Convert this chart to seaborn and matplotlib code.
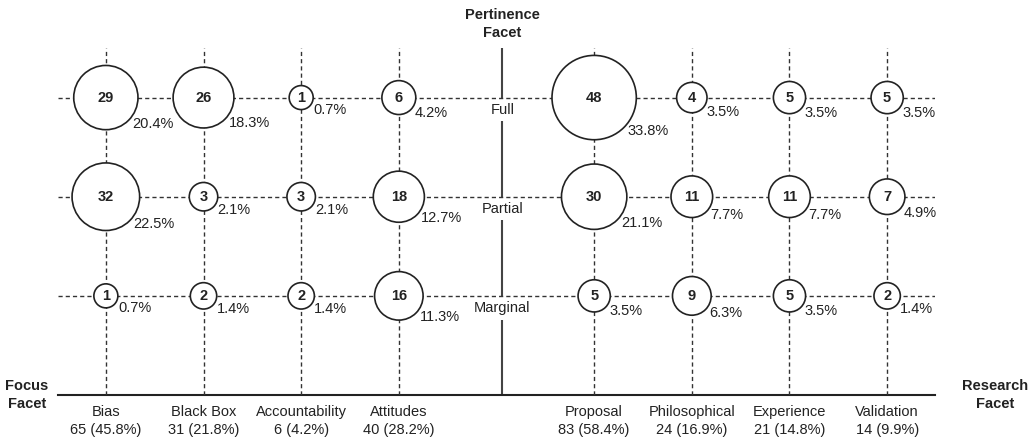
import numpy as np
import pandas as pd
import matplotlib
matplotlib.use("Agg")
import matplotlib.pyplot as plt
import seaborn as sns

# ---------------- data ----------------
focus_categories = ["Bias", "Black Box", "Accountability", "Attitudes"]
focus_totals = ["65 (45.8%)", "31 (21.8%)", "6 (4.2%)", "40 (28.2%)"]
research_categories = ["Proposal", "Philosophical", "Experience", "Validation"]
research_totals = ["83 (58.4%)", "24 (16.9%)", "21 (14.8%)", "14 (9.9%)"]
pertinence_levels = ["Full", "Partial", "Marginal"]

# rows follow pertinence_levels order
focus_counts = [
    [29, 26, 1, 6],
    [32, 3, 3, 18],
    [1, 2, 2, 16],
]
focus_pcts = [
    ["20.4%", "18.3%", "0.7%", "4.2%"],
    ["22.5%", "2.1%", "2.1%", "12.7%"],
    ["0.7%", "1.4%", "1.4%", "11.3%"],
]
research_counts = [
    [48, 4, 5, 5],
    [30, 11, 11, 7],
    [5, 9, 5, 2],
]
research_pcts = [
    ["33.8%", "3.5%", "3.5%", "3.5%"],
    ["21.1%", "7.7%", "7.7%", "4.9%"],
    ["3.5%", "6.3%", "3.5%", "1.4%"],
]

# ---------------- build table ----------------
rows = []
ncat = len(focus_categories)
for r, level in enumerate(pertinence_levels):
    yv = len(pertinence_levels) - r
    for c, cat in enumerate(focus_categories):
        rows.append(dict(facet="Focus", category=cat, x=c, y=yv,
                         count=focus_counts[r][c], pct=focus_pcts[r][c]))
    for c, cat in enumerate(research_categories):
        rows.append(dict(facet="Research", category=cat, x=ncat + 1 + c, y=yv,
                         count=research_counts[r][c], pct=research_pcts[r][c]))
df = pd.DataFrame(rows)
separator_x = ncat + 0.06

DPI = 100
def marker_diameter_px(n):
    return 20.5 + 3.5 * n ** 0.75

size_map = {n: (marker_diameter_px(n) * 72 / DPI) ** 2 for n in sorted(df["count"].unique())}

# ---------------- style ----------------
sns.set_style("white")
plt.rcParams["font.family"] = ["Liberation Sans", "DejaVu Sans"]

fig = plt.figure(figsize=(10.35, 4.4), dpi=DPI)
ax = fig.add_axes([58 / 1035, 45 / 440, 877 / 1035, 347 / 440])

ymax = 3.5
xmin, xmax = -0.49, 2 * ncat + 0.49
ax.set_xlim(xmin, xmax)
ax.set_ylim(0, ymax)

dash = (0, (3, 2.2))
line_col = "#333333"
xpos = [c for c in range(ncat)] + [ncat + 1 + c for c in range(ncat)]
ax.vlines(xpos, 0, ymax, colors=line_col, linestyles=dash, linewidth=1.0, zorder=3)
ax.hlines([1, 2, 3], xmin, xmax, colors=line_col, linestyles=dash,
          linewidth=1.0, zorder=3)
ax.vlines(separator_x, 0, ymax, colors="#444444", linewidth=1.5, zorder=1)

sns.scatterplot(data=df, x="x", y="y", size="count", sizes=size_map,
                color="white", edgecolor="#222222", linewidth=1.2,
                legend=False, zorder=5, ax=ax)

for _, row in df.iterrows():
    ax.text(row["x"], row["y"], str(row["count"]), ha="center", va="center",
            fontsize=10.5, fontweight="bold", color="#222222", zorder=6)
    r_pt = marker_diameter_px(row["count"]) / 2 * 72 / DPI
    off = r_pt * 0.707
    ax.annotate(row["pct"], xy=(row["x"], row["y"]), xycoords="data",
                xytext=(off + 2.6, -off - 2.6), textcoords="offset points",
                ha="left", va="center", fontsize=10.5, color="#222222", zorder=6)

for r, level in enumerate(pertinence_levels):
    yv = len(pertinence_levels) - r
    ax.text(separator_x, yv - 0.125, level, ha="center", va="center", fontsize=10.5,
            color="#222222", zorder=2,
            bbox=dict(boxstyle="square,pad=0.3", facecolor="white", edgecolor="none"))

tick_labels = [f"{c}\n{t}" for c, t in zip(focus_categories, focus_totals)] + \
              [f"{c}\n{t}" for c, t in zip(research_categories, research_totals)]
ax.set_xticks(xpos)
ax.set_xticklabels(tick_labels, fontsize=10.5, linespacing=1.35, color="#222222")
ax.set_yticks([])
ax.tick_params(axis="x", length=0, pad=7)
ax.set_xlabel("")
ax.set_ylabel("")

for s in ["top", "right", "left"]:
    ax.spines[s].set_visible(False)
ax.spines["bottom"].set_color("#222222")
ax.spines["bottom"].set_linewidth(1.5)

fig.text(502 / 1035, 1 - 24 / 440, "Pertinence\nFacet", ha="center", va="center",
         fontsize=10.5, fontweight="bold", linespacing=1.35, color="#222222")
fig.text(27 / 1035, 1 - 395 / 440, "Focus\nFacet", ha="center", va="center",
         fontsize=10.5, fontweight="bold", linespacing=1.35, color="#222222")
fig.text(995 / 1035, 1 - 395 / 440, "Research\nFacet", ha="center", va="center",
         fontsize=10.5, fontweight="bold", linespacing=1.35, color="#222222")

fig.savefig("out.png", dpi=DPI, facecolor="white")
